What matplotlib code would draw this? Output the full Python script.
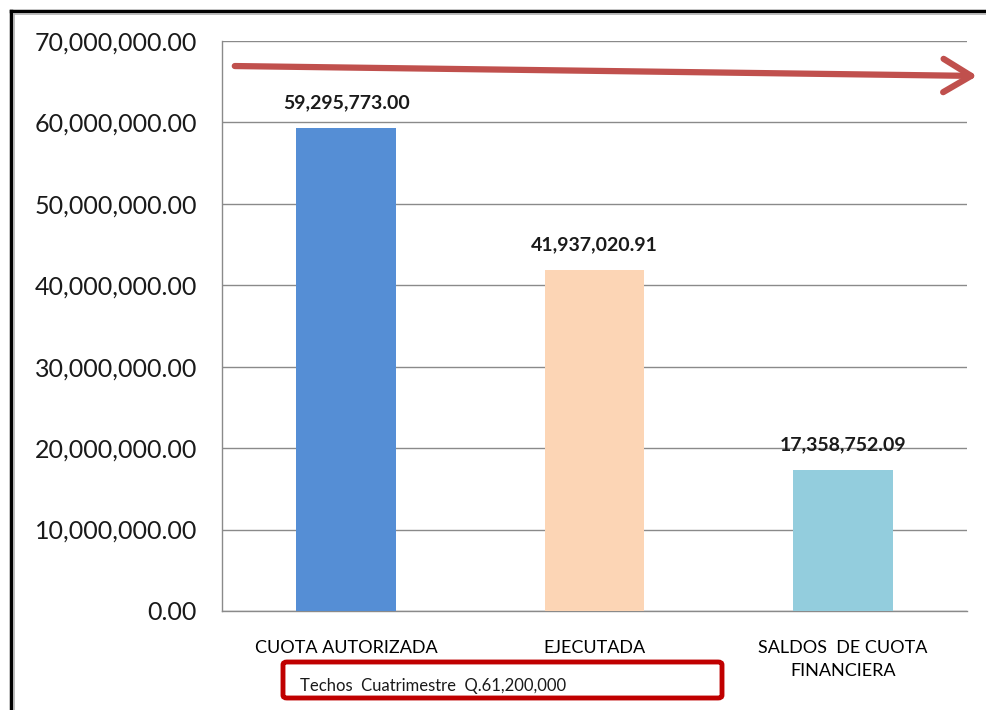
import matplotlib
matplotlib.use("Agg")
import matplotlib.pyplot as plt
from matplotlib.patches import FancyBboxPatch, FancyArrowPatch
from matplotlib.lines import Line2D
from matplotlib.ticker import FuncFormatter

categories = ["CUOTA AUTORIZADA", "EJECUTADA", "SALDOS  DE CUOTA\nFINANCIERA"]
values = [59295773.00, 41937020.91, 17358752.09]
value_labels = ["59,295,773.00", "41,937,020.91", "17,358,752.09"]
colors = ["#558ED5", "#FCD5B5", "#93CDDD"]
y_ticks = [0, 10e6, 20e6, 30e6, 40e6, 50e6, 60e6, 70e6]
note_text = "Techos  Cuatrimestre  Q.61,200,000"

plt.rcParams['font.family'] = ['Lato', 'DejaVu Sans']

fig = plt.figure(figsize=(9.86, 7.10), dpi=100)
W, H = 986, 710
ax = fig.add_axes([222 / W, 1 - 611 / H, (967 - 222) / W, (611 - 41) / H])

x = list(range(len(categories)))
ax.bar(x, values, width=0.4, color=colors, zorder=3)
ax.set_xlim(-0.5, 2.5)
ax.set_ylim(0, 70e6)
ax.set_yticks(y_ticks)
ax.yaxis.set_major_formatter(FuncFormatter(lambda v, p: f"{v:,.2f}"))
ax.grid(axis='y', color='#8a8a8a', linewidth=1.0, zorder=0)
ax.set_axisbelow(True)
for s in ['top', 'right']:
    ax.spines[s].set_visible(False)
for s in ['left', 'bottom']:
    ax.spines[s].set_color('#8a8a8a')
    ax.spines[s].set_linewidth(1.0)
ax.tick_params(axis='y', length=0, pad=18, labelsize=18, labelcolor='#1a1a1a')
ax.set_xticks(x)
ax.set_xticklabels(categories, fontsize=13, linespacing=1.5)
ax.tick_params(axis='x', length=0, pad=21)

for xi, v, lab in zip(x, values, value_labels):
    ax.annotate(lab, (xi, v), xytext=(0, 18), textcoords='offset points',
                ha='center', va='center', fontsize=14, fontweight='bold', color='#1a1a1a')

# Red arrow (decoration)
arr = FancyArrowPatch((232 / W, 1 - 66 / H), (980 / W, 1 - 76 / H),
                      transform=fig.transFigure, arrowstyle='->,head_length=20,head_width=12',
                      color='#C0504D', linewidth=4.5, mutation_scale=1, zorder=10)
fig.patches.append(arr)

# Red note box
box = FancyBboxPatch((283 / W, 1 - 698 / H), (722 - 283) / W, (698 - 662) / H,
                     boxstyle='round,pad=0,rounding_size=0.004', transform=fig.transFigure,
                     facecolor='white', edgecolor='#C00000', linewidth=3.5, zorder=10)
fig.patches.append(box)
fig.text(300 / W, 1 - 686 / H, note_text, fontsize=12, color='#1a1a1a', va='center', ha='left', zorder=11)

# Outer frame (top and left)
fig.add_artist(Line2D([11 / W, 11 / W], [0, 1 - 11 / H], color='black', linewidth=2.5, transform=fig.transFigure))
fig.add_artist(Line2D([11 / W, 1], [1 - 11 / H, 1 - 11 / H], color='black', linewidth=2.5, transform=fig.transFigure))
fig.add_artist(Line2D([14 / W, 14 / W], [0, 1 - 14 / H], color='#b0b0b0', linewidth=1.2, transform=fig.transFigure))
fig.add_artist(Line2D([14 / W, 1], [1 - 14 / H, 1 - 14 / H], color='#b0b0b0', linewidth=1.2, transform=fig.transFigure))

fig.savefig("out.png", dpi=100)
